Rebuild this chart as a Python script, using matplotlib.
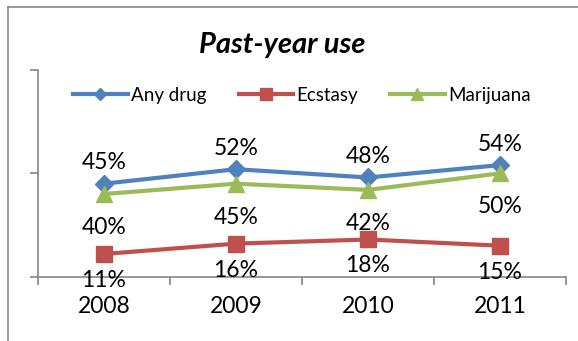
import matplotlib.pyplot as plt
from matplotlib.lines import Line2D

# Données
years = ["2008", "2009", "2010", "2011"]
any_drug = [45, 52, 48, 54]
ecstasy = [11, 16, 18, 15]
marijuana = [40, 45, 42, 50]

plt.rcParams['font.family'] = ['Lato', 'DejaVu Sans']

fig = plt.figure(figsize=(5.78, 3.41), dpi=100)
ax = fig.add_axes([38 / 578, 64.3 / 341, 528 / 578, 206.7 / 341])

x = list(range(len(years)))
blue, red, green = '#4F81BD', '#C0504D', '#9BBB59'

ax.plot(x, any_drug, color=blue, lw=3, marker='D', ms=9, zorder=3)
ax.plot(x, ecstasy, color=red, lw=3, marker='s', ms=11, zorder=3)
ax.plot(x, marijuana, color=green, lw=3, marker='^', ms=12, zorder=3)

# Étiquettes de données
for i in x:
    ax.annotate(f"{any_drug[i]}%", (i, any_drug[i]), xytext=(0, 15), textcoords='offset points',
                ha='center', va='center', fontsize=16.5)
    ax.annotate(f"{marijuana[i]}%", (i, marijuana[i]), xytext=(0, -24), textcoords='offset points',
                ha='center', va='center', fontsize=16.5)
    ax.annotate(f"{ecstasy[i]}%", (i, ecstasy[i]), xytext=(0, -19), textcoords='offset points',
                ha='center', va='center', fontsize=16.5, zorder=5)

ax.set_xlim(-0.5, 3.5)
ax.set_ylim(0, 100)
ax.set_yticks([0, 50, 100])
ax.set_yticklabels([])
ax.set_xticks(x)
ax.set_xticklabels(years, fontsize=16.5)
ax.set_xticks([-0.5, 0.5, 1.5, 2.5, 3.5], minor=True)
ax.tick_params(axis='x', which='major', length=0, pad=14)
ax.tick_params(axis='x', which='minor', length=6, width=1.2, color='#868686')
ax.tick_params(axis='y', length=6, width=1.2, color='#868686')
for s in ['top', 'right']:
    ax.spines[s].set_visible(False)
for s in ['left', 'bottom']:
    ax.spines[s].set_color('#868686')
    ax.spines[s].set_linewidth(1.2)
ax.patch.set_alpha(0)

# Légende
handles = [
    Line2D([], [], color=blue, lw=3, marker='D', ms=6),
    Line2D([], [], color=red, lw=3, marker='s', ms=8),
    Line2D([], [], color=green, lw=3, marker='^', ms=8),
]
fig.legend(handles, ["Any drug", "Ecstasy", "Marijuana"], loc='center', bbox_to_anchor=(302 / 578, 1 - 95 / 341),
           ncol=3, frameon=False, fontsize=13.5, handlelength=2.9, handletextpad=0.2, columnspacing=1.7)

# Titre
fig.text(282 / 578, 1 - 45 / 341, "Past-year use", ha='center', va='center', fontsize=21,
         fontweight='bold', fontstyle='italic')

# Bordure
fig.add_artist(Line2D([8 / 578, 1], [1 - 7 / 341, 1 - 7 / 341], color='#868686', lw=1.2, transform=fig.transFigure))
fig.add_artist(Line2D([8 / 578, 8 / 578], [0, 1 - 7 / 341], color='#868686', lw=1.2, transform=fig.transFigure))

fig.savefig("out.png", dpi=100)
